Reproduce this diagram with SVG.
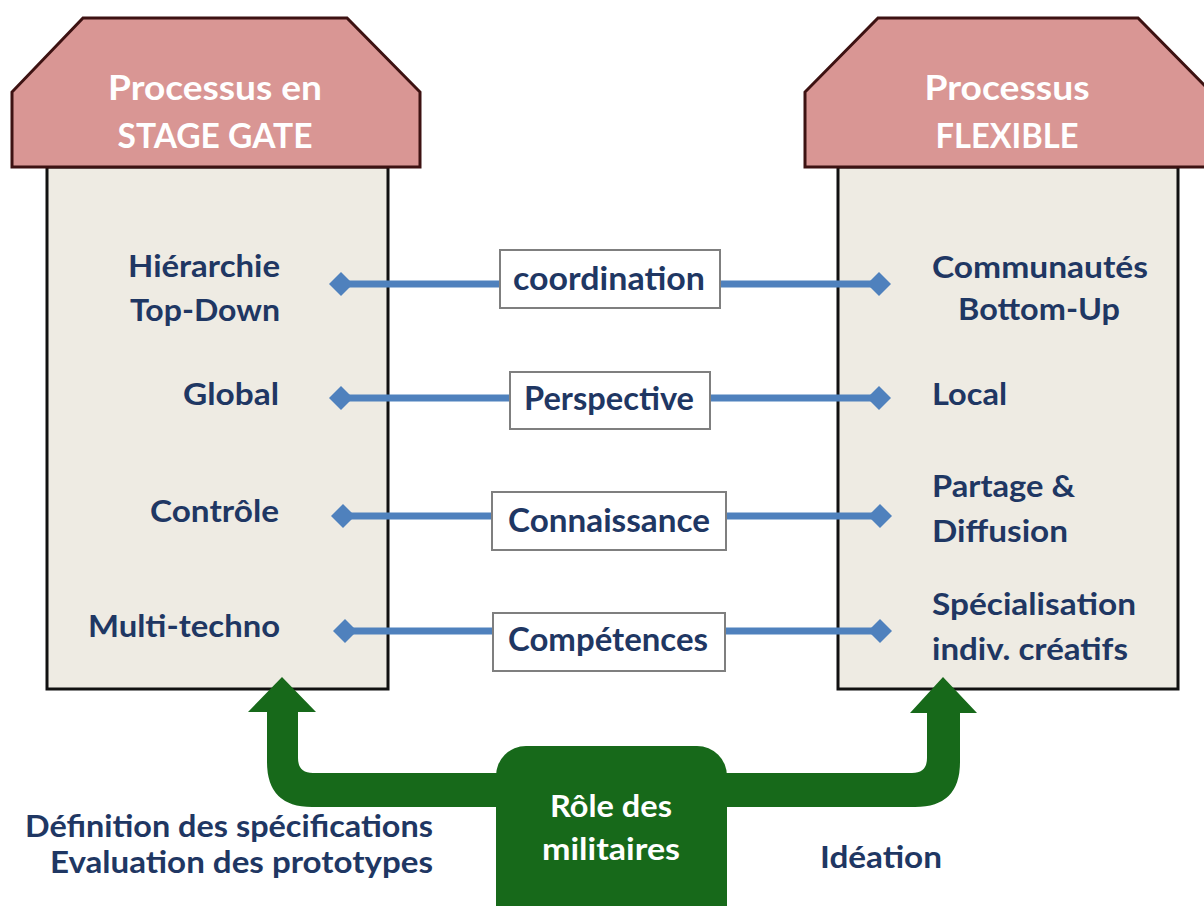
<svg xmlns="http://www.w3.org/2000/svg" width="1204" height="906" viewBox="0 0 1204 906">
  <defs>
    <style>
      .body { fill: #eeebe3; stroke: #111111; stroke-width: 3; }
      .roof { fill: #d99694; stroke: #3d1212; stroke-width: 3; stroke-linejoin: miter; }
      .title { font-family: Lato, "Open Sans", "Liberation Sans", sans-serif; font-weight: 700; font-size: 35px; fill: #ffffff; text-anchor: middle; }
      .lbl { font-family: Lato, "Open Sans", "Liberation Sans", sans-serif; font-weight: 700; font-size: 31px; fill: #1f3763; }
      .end { text-anchor: end; }
      .mid { text-anchor: middle; }
      .link { stroke: #4f81bd; stroke-width: 7; fill: none; marker-start: url(#diamond); marker-end: url(#diamond); }
      .tag { fill: #ffffff; stroke: #7f7f7f; stroke-width: 2; }
      .tagtxt { font-family: Lato, "Open Sans", "Liberation Sans", sans-serif; font-weight: 700; font-size: 32px; fill: #1f3763; text-anchor: middle; }
      .green { fill: #17691a; }
      .roletxt { font-family: Lato, "Open Sans", "Liberation Sans", sans-serif; font-weight: 700; font-size: 31px; fill: #ffffff; text-anchor: middle; }
    </style>
    <marker id="diamond" viewBox="-12 -12 24 24" markerWidth="24" markerHeight="24" refX="0" refY="0" markerUnits="userSpaceOnUse" orient="auto">
      <path d="M -12 0 L 0 -12 L 12 0 L 0 12 Z" fill="#4f81bd"/>
    </marker>
  </defs>

  <rect x="0" y="0" width="1204" height="906" fill="#ffffff"/>

  <!-- Stage-gate column -->
  <g id="stage-gate">
    <rect class="body" x="47" y="167" width="341" height="522"/>
    <polygon class="roof" points="83,18 347,18 420,92 420,167 12,167 12,92"/>
    <text class="title" x="215" y="100" textLength="214" lengthAdjust="spacingAndGlyphs">Processus en</text>
    <text class="title" x="215" y="148" textLength="195" lengthAdjust="spacingAndGlyphs">STAGE GATE</text>
    <text class="lbl end" x="280" y="277" textLength="152" lengthAdjust="spacingAndGlyphs">Hiérarchie</text>
    <text class="lbl end" x="280" y="321" textLength="150" lengthAdjust="spacingAndGlyphs">Top-Down</text>
    <text class="lbl end" x="279" y="405" textLength="96" lengthAdjust="spacingAndGlyphs">Global</text>
    <text class="lbl end" x="279" y="522" textLength="129" lengthAdjust="spacingAndGlyphs">Contrôle</text>
    <text class="lbl end" x="280" y="637" textLength="192" lengthAdjust="spacingAndGlyphs">Multi-techno</text>
  </g>

  <!-- Flexible column -->
  <g id="flexible">
    <rect class="body" x="838" y="167" width="340" height="522"/>
    <polygon class="roof" points="878,18 1138,18 1211,92 1211,167 805,167 805,92"/>
    <text class="title" x="1007" y="100" textLength="165" lengthAdjust="spacingAndGlyphs">Processus</text>
    <text class="title" x="1007" y="148" textLength="143" lengthAdjust="spacingAndGlyphs">FLEXIBLE</text>
    <text class="lbl" x="932" y="278" textLength="216" lengthAdjust="spacingAndGlyphs">Communautés</text>
    <text class="lbl" x="958" y="320" textLength="162" lengthAdjust="spacingAndGlyphs">Bottom-Up</text>
    <text class="lbl" x="932" y="405" textLength="75" lengthAdjust="spacingAndGlyphs">Local</text>
    <text class="lbl" x="932" y="497" textLength="143" lengthAdjust="spacingAndGlyphs">Partage &amp;</text>
    <text class="lbl" x="932" y="542" textLength="136" lengthAdjust="spacingAndGlyphs">Diffusion</text>
    <text class="lbl" x="932" y="615" textLength="204" lengthAdjust="spacingAndGlyphs">Spécialisation</text>
    <text class="lbl" x="932" y="660" textLength="196" lengthAdjust="spacingAndGlyphs">indiv. créatifs</text>
  </g>

  <!-- Links between the two columns -->
  <g id="connectors">
    <line class="link" x1="341" y1="284" x2="879" y2="284"/>
    <line class="link" x1="341" y1="398" x2="879" y2="398"/>
    <line class="link" x1="343" y1="516" x2="880" y2="516"/>
    <line class="link" x1="345" y1="631" x2="880" y2="631"/>
    <!-- green block arrows leaving the central box -->
    <path class="green" d="M 282 677 L 316 712 L 298 712 L 298 758 Q 298 773 313 773 L 500 773 L 500 807 L 312 807 Q 267 807 267 762 L 267 712 L 248 712 Z"/>
    <path class="green" d="M 943 677 L 977 713 L 960 713 L 960 762 Q 960 807 915 807 L 724 807 L 724 773 L 912 773 Q 927 773 927 758 L 927 713 L 910 713 Z"/>
  </g>

  <g id="tag-coordination">
    <rect class="tag" x="500" y="250" width="220" height="58"/>
    <text class="tagtxt" x="609" y="290" textLength="192" lengthAdjust="spacingAndGlyphs">coordination</text>
  </g>
  <g id="tag-perspective">
    <rect class="tag" x="510" y="372" width="200" height="57"/>
    <text class="tagtxt" x="609" y="410" textLength="170" lengthAdjust="spacingAndGlyphs">Perspective</text>
  </g>
  <g id="tag-connaissance">
    <rect class="tag" x="492" y="492" width="234" height="58"/>
    <text class="tagtxt" x="609" y="532" textLength="202" lengthAdjust="spacingAndGlyphs">Connaissance</text>
  </g>
  <g id="tag-competences">
    <rect class="tag" x="493" y="613" width="232" height="58"/>
    <text class="tagtxt" x="608" y="651" textLength="200" lengthAdjust="spacingAndGlyphs">Compétences</text>
  </g>

  <g id="role">
    <rect class="green" x="496" y="746" width="231" height="200" rx="30" ry="30"/>
    <text class="roletxt" x="611" y="817" textLength="122" lengthAdjust="spacingAndGlyphs">Rôle des</text>
    <text class="roletxt" x="611" y="860" textLength="138" lengthAdjust="spacingAndGlyphs">militaires</text>
  </g>

  <g id="role-stage-gate">
    <text class="lbl end" x="433" y="837" textLength="408" lengthAdjust="spacingAndGlyphs">Définition des spécifications</text>
    <text class="lbl end" x="433" y="873" textLength="383" lengthAdjust="spacingAndGlyphs">Evaluation des prototypes</text>
  </g>

  <g id="role-flexible">
    <text class="lbl" x="820" y="868" textLength="122" lengthAdjust="spacingAndGlyphs">Idéation</text>
  </g>
</svg>
